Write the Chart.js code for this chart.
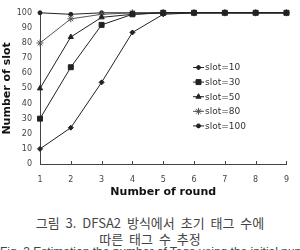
<!DOCTYPE html>
<html>
<head>
<meta charset="utf-8">
<script src="https://cdn.jsdelivr.net/npm/chart.js@4/dist/chart.umd.min.js"></script>
<style>
  body { margin: 0; background: #fff; width: 300px; height: 250px; overflow: hidden; position: relative; }
  #chart { position: absolute; left: 0; top: 0; }
  .cap { position: absolute; left: 0; width: 300px; text-align: center; color: #444;
         font-family: "Noto Sans CJK KR", sans-serif; font-size: 13px; line-height: 15px; white-space: nowrap; }
</style>
</head>
<body>
<canvas id="chart" width="300" height="200"></canvas>
<div class="cap" id="cap1" style="top: 215px; word-spacing: 3px;">그림 3. DFSA2 방식에서 초기 태그 수에</div>
<div class="cap" id="cap2" style="top: 231px; word-spacing: 3px;">따른 태그 수 추정</div>
<div class="cap" id="cap3" style="top: 245px; font-family: 'Liberation Sans', sans-serif; font-size: 12px;">Fig. 3 Estimation the number of Tags using the initial number</div>
<script>
const rounds = ['1', '2', '3', '4', '5', '6', '7', '8', '9'];
const seriesNames = ['slot=10', 'slot=30', 'slot=50', 'slot=80', 'slot=100'];
const slot10 = [10, 24, 54, 87, 99, 100, 100, 100, 100];
const slot30 = [30, 64, 92, 99, 100, 100, 100, 100, 100];
const slot50 = [50, 84, 97, 99, 100, 100, 100, 100, 100];
const slot80 = [80, 96, 99, 100, 100, 100, 100, 100, 100];
const slot100 = [100, 99, 100, 100, 100, 100, 100, 100, 100];

const lineColor = '#222';

function makeSet(label, data, style, radius, color) {
  return {
    label: label,
    data: data,
    borderColor: color || lineColor,
    backgroundColor: color || lineColor,
    borderWidth: 1,
    pointStyle: style,
    pointRadius: radius,
    pointBorderWidth: 1,
    pointHoverRadius: radius,
    tension: 0,
    clip: false
  };
}

// small legend inside the plot, plus upward tick marks on the x axis
const extras = {
  id: 'extras',
  afterDraw(chart) {
    const ctx = chart.ctx;
    const x = chart.scales.x;
    ctx.save();
    ctx.strokeStyle = '#444';
    ctx.lineWidth = 1;
    x.ticks.forEach((t, i) => {
      const px = Math.round(x.getPixelForTick(i)) + 0.5;
      ctx.beginPath();
      ctx.moveTo(px, x.top);
      ctx.lineTo(px, x.top - 3);
      ctx.stroke();
    });

    ctx.font = '9px "DejaVu Sans", sans-serif';
    ctx.textBaseline = 'middle';
    chart.data.datasets.forEach((ds, i) => {
      const y = 67.5 + i * 14.6;
      ctx.strokeStyle = ds.borderColor;
      ctx.fillStyle = ds.backgroundColor;
      ctx.beginPath();
      ctx.moveTo(193, y);
      ctx.lineTo(204, y);
      ctx.stroke();
      Chart.helpers.drawPoint(ctx, { pointStyle: ds.pointStyle, radius: ds.pointRadius, rotation: 0, borderWidth: 1 }, 198.5, y);
      ctx.fillStyle = '#333';
      ctx.fillText(ds.label, 205, y + 0.5);
    });
    ctx.restore();
  }
};

new Chart(document.getElementById('chart'), {
  type: 'line',
  data: {
    labels: rounds,
    datasets: [
      makeSet(seriesNames[0], slot10, 'rectRot', 2.5),
      makeSet(seriesNames[1], slot30, 'rect', 3.5),
      makeSet(seriesNames[2], slot50, 'triangle', 3),
      makeSet(seriesNames[3], slot80, 'star', 3.5, '#555'),
      makeSet(seriesNames[4], slot100, 'circle', 2)
    ]
  },
  options: {
    responsive: false,
    animation: false,
    layout: { padding: { top: 11, right: 11, bottom: 0, left: 0 } },
    plugins: { legend: { display: false }, tooltip: { enabled: false } },
    scales: {
      x: {
        offset: false,
        grid: { display: false, drawTicks: false },
        border: { display: true, color: '#444', width: 1 },
        ticks: { color: '#444', font: { size: 8, family: 'DejaVu Sans' }, padding: 11, maxRotation: 0 },
        title: { display: true, text: 'Number of round', color: '#111',
                 font: { size: 11, weight: 'bold', family: 'DejaVu Sans' }, padding: { top: 0, bottom: 1 } },
        afterFit(scale) { scale.height = 36; }
      },
      y: {
        min: 0,
        max: 100,
        grid: { display: false, drawTicks: false },
        border: { display: true, color: '#444', width: 1 },
        ticks: { stepSize: 10, color: '#444', font: { size: 8, family: 'DejaVu Sans' }, padding: 8 },
        title: { display: true, text: 'Number of slot', color: '#111',
                 font: { size: 11, weight: 'bold', family: 'DejaVu Sans' }, padding: { top: 1, bottom: 0 } },
        afterFit(scale) { scale.width = 40; }
      }
    }
  },
  plugins: [extras]
});
</script>
</body>
</html>
